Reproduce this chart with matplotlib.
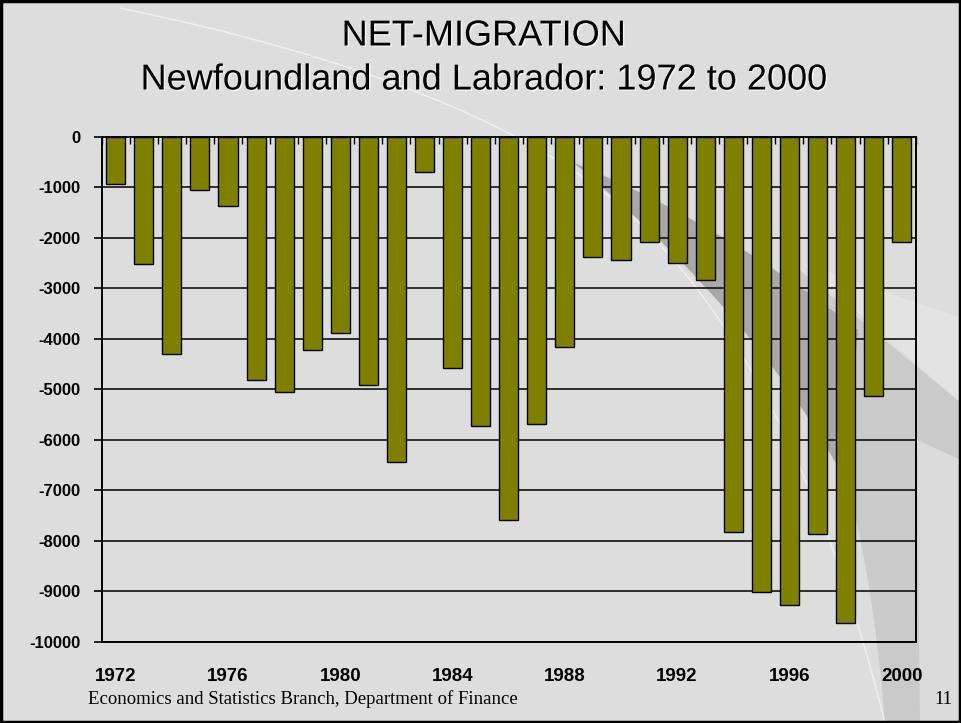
import numpy as np
import matplotlib
matplotlib.use("Agg")
import matplotlib.pyplot as plt
from matplotlib import font_manager
from matplotlib.path import Path
from matplotlib.patches import PathPatch, Rectangle
import matplotlib.patheffects as pe

years = list(range(1972, 2001))
net_migration = [-940, -2520, -4300, -1050, -1360, -4820, -5060, -4220, -3890, -4910,
                 -6430, -690, -4580, -5720, -7590, -5680, -4170, -2370, -2440, -2080,
                 -2500, -2840, -7820, -9020, -9280, -7865, -9630, -5135, -2080]
year_labels = ["1972", "1976", "1980", "1984", "1988", "1992", "1996", "2000"]
y_ticks = list(range(-10000, 1, 1000))

title1 = "NET-MIGRATION"
title2 = "Newfoundland and Labrador: 1972 to 2000"
footer = "Economics and Statistics Branch, Department of Finance"
page_no = "11"

names = set(f.name for f in font_manager.fontManager.ttflist)
narrow = "Liberation Sans Narrow" if "Liberation Sans Narrow" in names else "Liberation Sans"

W, H = 961, 723
BG = "#dddddd"

fig = plt.figure(figsize=(W / 100, H / 100), dpi=100, facecolor=BG)


def px(x, y):
    # pixel coords (y from top) -> figure fraction
    return (x / W, 1 - y / H)


def deco(verts, codes, **kw):
    p = Path([px(*v) for v in verts], codes)
    fig.add_artist(PathPatch(p, transform=fig.transFigure, zorder=0, **kw))


M, C, L, Z = Path.MOVETO, Path.CURVE3, Path.LINETO, Path.CLOSEPOLY

# lighter wedge above the gray region
deco([(800, 262), (961, 318), (961, 403), (800, 262)],
     [M, L, L, Z], facecolor="#e3e3e3", edgecolor="none")
# gray region right of the white arc
deco([(790, 262), (961, 403), (961, 723), (885, 723), (865, 470), (790, 330), (790, 262)],
     [M, L, L, L, C, C, Z], facecolor="#cacaca", edgecolor="none")
deco([(917, 440), (961, 460), (961, 723), (920, 723), (917, 440)],
     [M, L, L, L, Z], facecolor="#e2e2e2", edgecolor="none", alpha=0.75)
# dark swoosh band
deco([(572, 162), (720, 222), (858, 330), (845, 480), (760, 320), (580, 168), (572, 162)],
     [M, C, C, L, C, C, Z], facecolor="#a8a8a8", edgecolor="none")
# thin white arc
deco([(120, 8), (470, 80), (620, 205), (795, 360), (885, 723)],
     [M, C, C, C, C], facecolor="none", edgecolor="#f0f0f0", lw=1.0)

ax = fig.add_axes([101.7 / W, 1 - 641.7 / H, 814 / W, 504.7 / H])
ax.patch.set_alpha(0)

x = np.arange(len(years))
ax.bar(x, net_migration, width=0.68, color="#808000", edgecolor="black", linewidth=1.0, zorder=3)

ax.set_xlim(-0.5, len(years) - 0.5)
ax.set_ylim(-10000, 0)

ax.set_yticks(y_ticks)
ax.set_yticklabels([str(v) for v in y_ticks])
ax.yaxis.grid(True, color="#111111", linewidth=1.2, zorder=1)
ax.set_axisbelow(True)

ax.set_xticks([years.index(int(s)) for s in year_labels])
ax.set_xticklabels(year_labels)
ax.set_xticks(np.arange(-0.5, len(years), 1.0), minor=True)

ax.tick_params(axis="x", which="major", bottom=True, top=False, length=0, pad=19)
ax.tick_params(axis="x", which="minor", bottom=False, top=True, direction="in", length=5, width=1)
ax.tick_params(axis="y", which="major", direction="out", length=6, width=1.2, pad=9)

for lab in ax.get_xticklabels():
    lab.set_fontfamily(narrow)
    lab.set_fontweight("bold")
    lab.set_fontsize(13.5)
for lab in ax.get_yticklabels():
    lab.set_fontfamily(narrow)
    lab.set_fontweight("bold")
    lab.set_fontsize(12)

for s in ax.spines.values():
    s.set_color("black")
    s.set_linewidth(1.4)

shadow = [pe.withSimplePatchShadow(offset=(1, -1), shadow_rgbFace="#f4f4f4", alpha=1.0)]
fig.text(*px(484, 36), title1, ha="center", va="center", fontsize=26,
         family="Liberation Sans", path_effects=shadow)
fig.text(*px(484, 80), title2, ha="center", va="center", fontsize=26,
         family="Liberation Sans", path_effects=shadow)

fig.text(*px(88, 699), footer, ha="left", va="center", fontsize=13.5, family="Liberation Serif")
fig.text(*px(952, 699), page_no, ha="right", va="center", fontsize=13.5, family="Liberation Serif")

# slide border
fig.add_artist(Rectangle((0.0015, 0.002), 0.997, 0.996, transform=fig.transFigure,
                         facecolor="none", edgecolor="black", linewidth=2.5, zorder=10))

fig.savefig("out.png", dpi=100, facecolor=BG)
